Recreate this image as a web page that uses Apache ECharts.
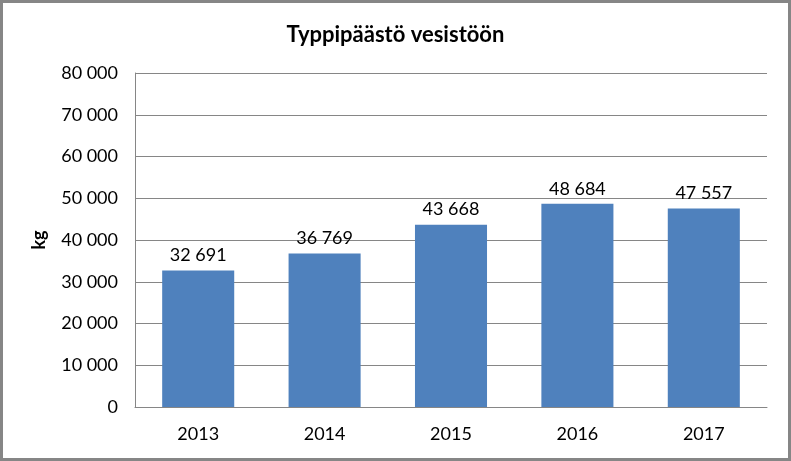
<!DOCTYPE html>
<html><head><meta charset="utf-8">
<script src="https://cdn.jsdelivr.net/npm/echarts@6/dist/echarts.min.js"></script>
<style>html,body{margin:0;padding:0;background:#fff}#c{width:791px;height:461px;box-sizing:border-box;border:3px solid #868686}</style>
</head><body><div id="c"></div>
<script>
const categories = ['2013','2014','2015','2016','2017'];
const values = [32691, 36769, 43668, 48684, 47557];
const titleText = 'Typpipäästö vesistöön';
const yName = 'kg';
const fmt = v => String(v).replace(/\B(?=(\d{3})+(?!\d))/g, ' ');
const chart = echarts.init(document.getElementById('c'), null, {renderer:'canvas'});
const F = 'Lato, "Open Sans", sans-serif';
chart.setOption({
  animation:false,
  title:{text:titleText,left:'center',top:16,textStyle:{fontFamily:F,fontSize:22,fontWeight:'bold',color:'#000'}},
  grid:{left:132,right:21,top:70,bottom:51,containLabel:false},
  xAxis:{type:'category',data:categories,
    axisLine:{lineStyle:{color:'#868686'}},axisTick:{show:false},
    axisLabel:{fontFamily:F,fontSize:18,color:'#000',margin:18}},
  yAxis:{type:'value',min:0,max:80000,interval:10000,name:yName,nameLocation:'middle',nameGap:87,
    nameTextStyle:{fontFamily:F,fontSize:18,fontWeight:'bold',color:'#000'},
    axisLine:{show:true,lineStyle:{color:'#868686'}},axisTick:{show:false},
    splitLine:{lineStyle:{color:'#868686'}},
    axisLabel:{fontFamily:F,fontSize:18,color:'#000',margin:17,formatter:fmt}},
  series:[{type:'bar',data:values,barCategoryGap:'43%',itemStyle:{color:'#4F81BD'},
    label:{show:true,position:'top',distance:6,fontFamily:F,fontSize:18,color:'#000',formatter:p=>fmt(p.value)}}]
});
</script></body></html>
